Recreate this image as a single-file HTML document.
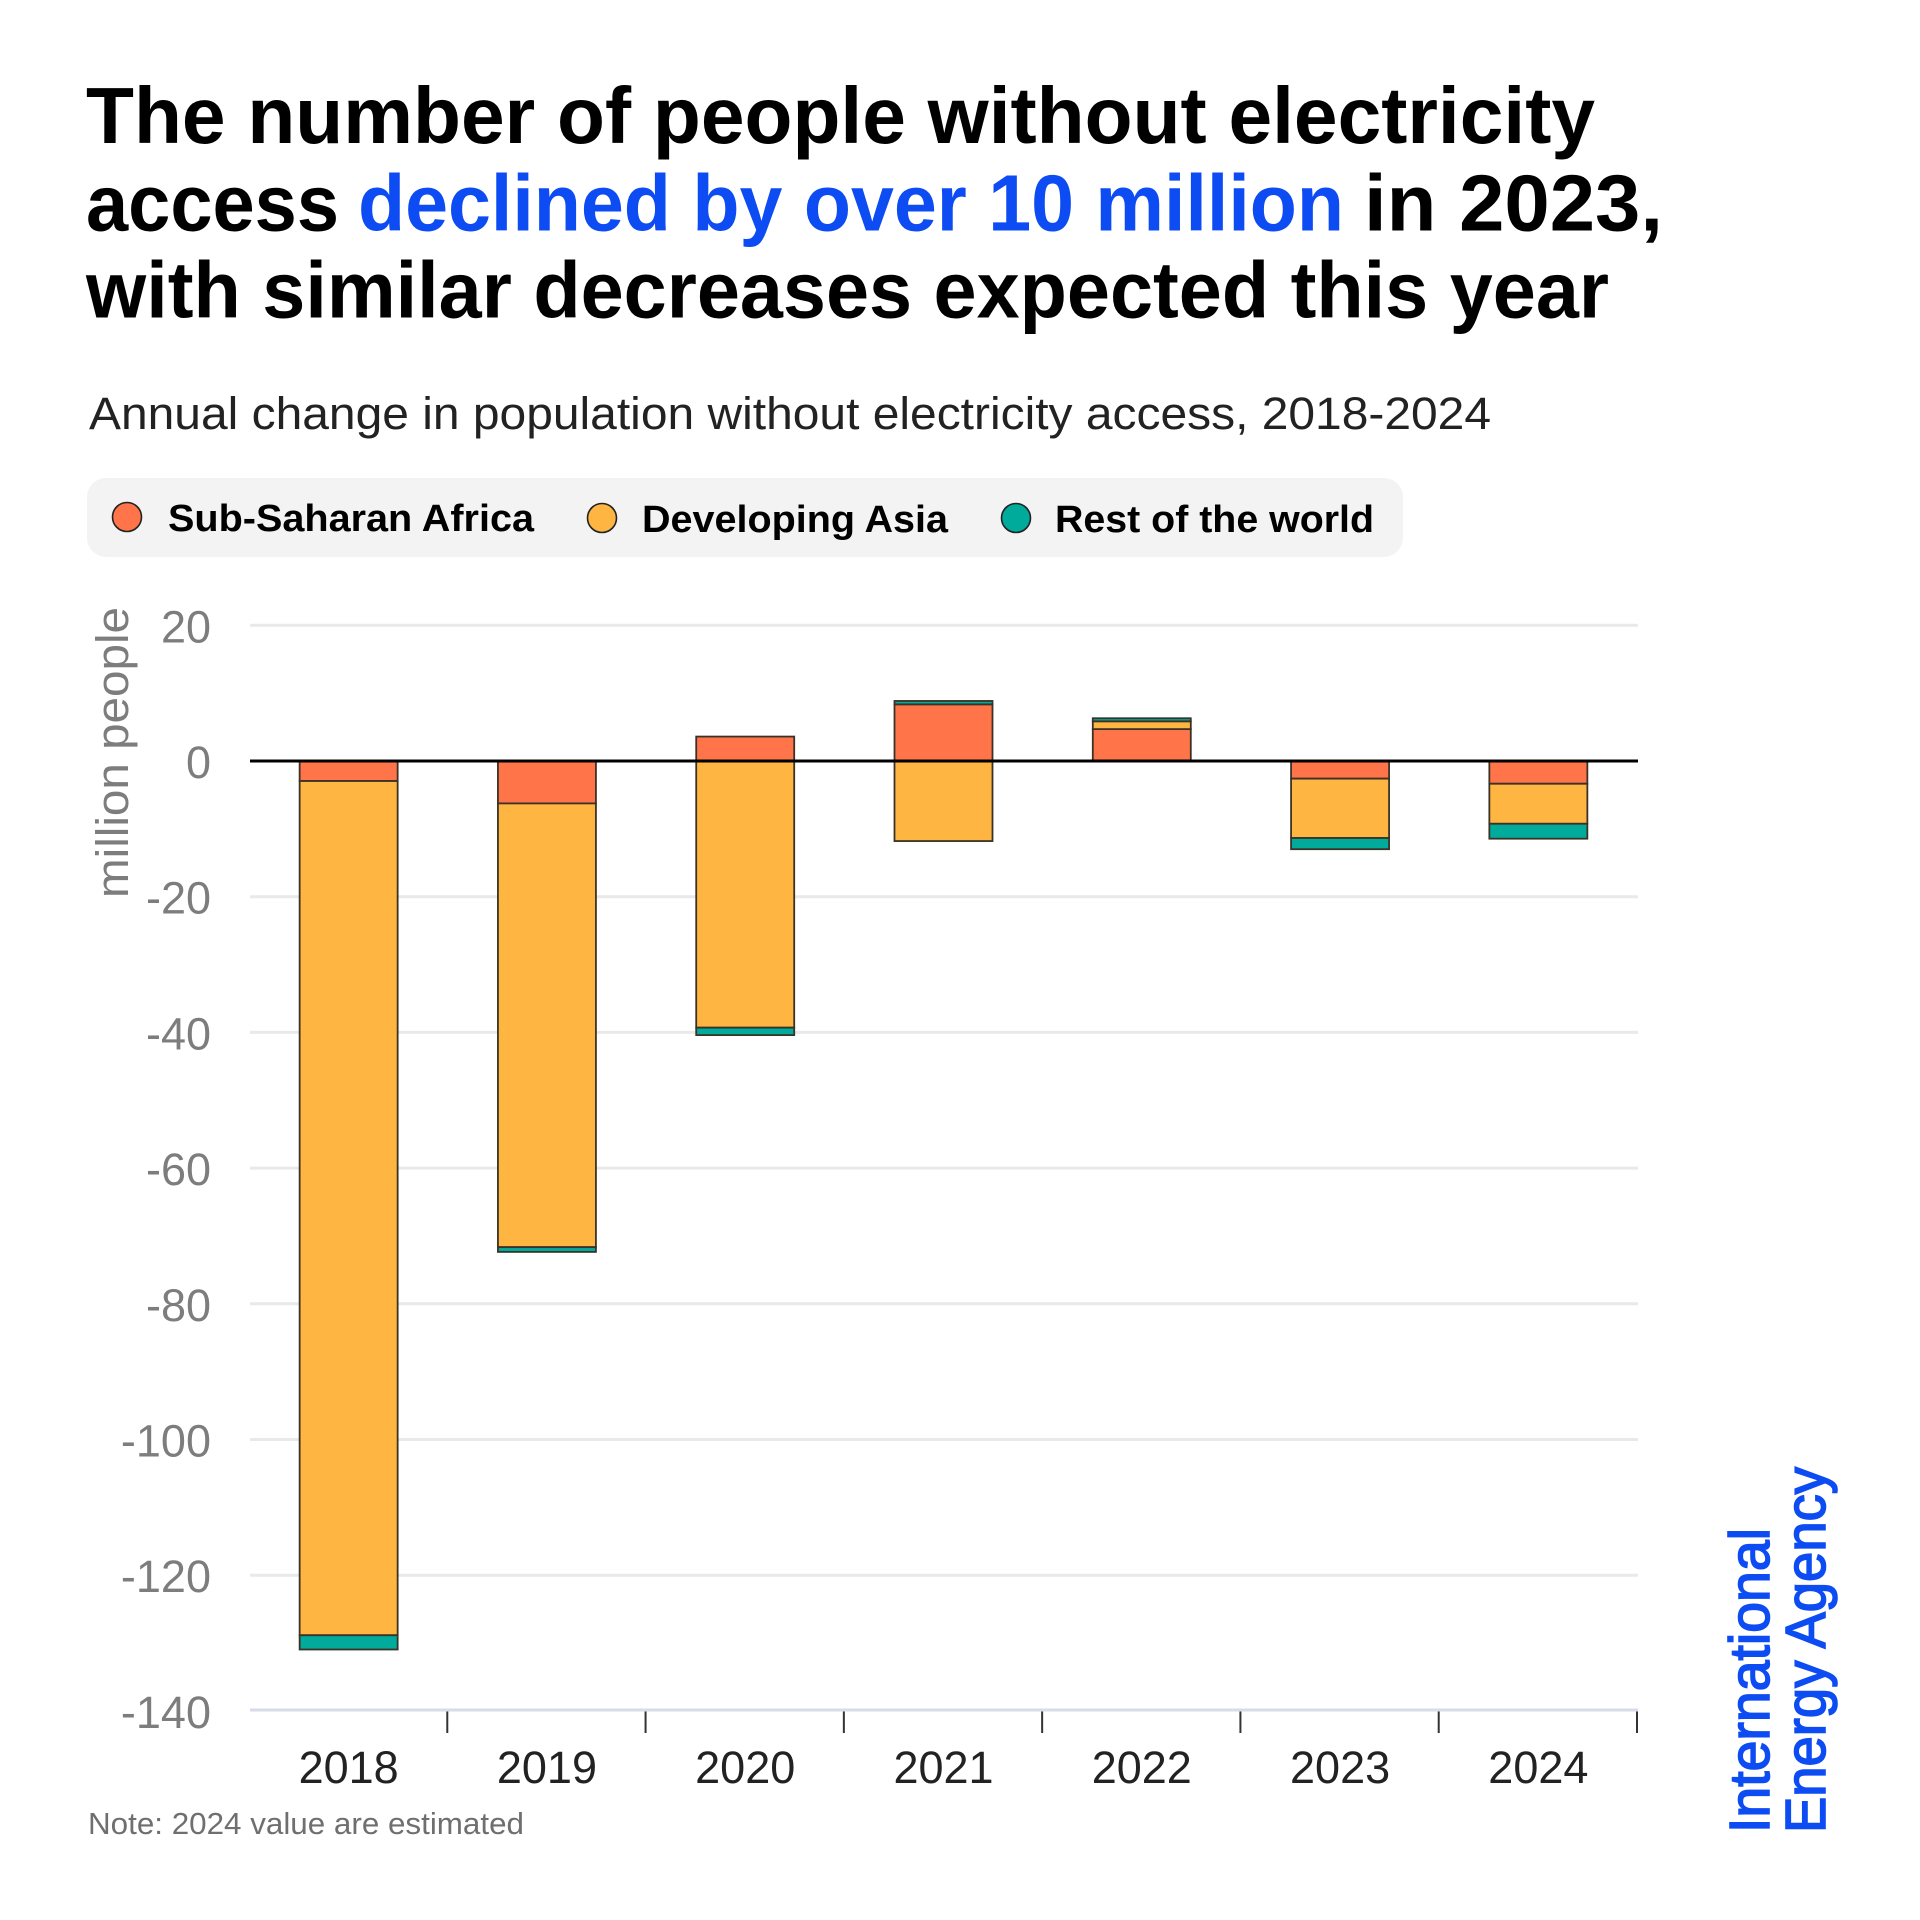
<!DOCTYPE html>
<html lang="en">
<head>
<meta charset="utf-8">
<title>People without electricity access</title>
<style>
  html, body { margin: 0; padding: 0; background: #fff; }
  svg { display: block; font-family: "Liberation Sans", sans-serif; }
</style>
</head>
<body>
<svg id="chart" xmlns="http://www.w3.org/2000/svg" width="1920" height="1920" viewBox="0 0 1920 1920">
  <rect x="0" y="0" width="1920" height="1920" fill="#ffffff"/>

  <g font-weight="700" font-size="80" fill="#000000">
    <text x="86" y="143" textLength="1509" lengthAdjust="spacingAndGlyphs">The number of people without electricity</text>
    <text x="86" y="230.5" textLength="253" lengthAdjust="spacingAndGlyphs">access</text>
    <text x="358" y="230.5" textLength="986" lengthAdjust="spacingAndGlyphs" fill="#0d4cf3">declined by over 10 million</text>
    <text x="1364" y="230.5" textLength="299" lengthAdjust="spacingAndGlyphs">in 2023,</text>
    <text x="86" y="317.5" textLength="1523" lengthAdjust="spacingAndGlyphs">with similar decreases expected this year</text>
  </g>

  <text x="89" y="429" font-size="45" fill="#222222" textLength="1402" lengthAdjust="spacingAndGlyphs">Annual change in population without electricity access, 2018-2024</text>

  <g>
    <rect x="87" y="478" width="1316" height="79" rx="19" fill="#f3f3f3"/>
    <g>
      <circle cx="127" cy="517" r="14.5" fill="#ff7549" stroke="#222" stroke-width="1.6"/>
      <text x="168" y="531" font-size="38" font-weight="700" fill="#000" textLength="366" lengthAdjust="spacingAndGlyphs">Sub-Saharan Africa</text>
    </g>
    <g>
      <circle cx="602" cy="518" r="14.5" fill="#ffb541" stroke="#222" stroke-width="1.6"/>
      <text x="642" y="532" font-size="38" font-weight="700" fill="#000" textLength="306" lengthAdjust="spacingAndGlyphs">Developing Asia</text>
    </g>
    <g>
      <circle cx="1016" cy="518" r="14.5" fill="#00ab9b" stroke="#222" stroke-width="1.6"/>
      <text x="1055" y="532" font-size="38" font-weight="700" fill="#000" textLength="319" lengthAdjust="spacingAndGlyphs">Rest of the world</text>
    </g>
  </g>

  <text transform="translate(128 898) rotate(-90)" font-size="45" fill="#7d7d7d" textLength="291" lengthAdjust="spacingAndGlyphs">million people</text>

  <g id="grid"></g>
  <g id="y-labels"></g>
  <g id="bars"></g>
  <g id="axes"></g>
  <g id="x-labels"></g>

  <text x="88" y="1834" font-size="31" fill="#6f6f6f" textLength="436" lengthAdjust="spacingAndGlyphs">Note: 2024 value are estimated</text>

  <g font-size="57" fill="#0d4cf3" stroke="#0d4cf3" stroke-width="1.6">
    <text transform="translate(1769 1833) rotate(-90)" textLength="305" lengthAdjust="spacingAndGlyphs">International</text>
    <text transform="translate(1825 1833) rotate(-90)" textLength="366" lengthAdjust="spacingAndGlyphs">Energy Agency</text>
  </g>
</svg>

<script>
const categories = ['2018', '2019', '2020', '2021', '2022', '2023', '2024'];
const subSaharanAfrica = [-2.95, -6.25, 3.6, 8.35, 4.7, -2.6, -3.35];
const developingAsia = [-125.9, -65.4, -39.3, -11.8, 1.15, -8.75, -5.9];
const restOfWorld = [-2.1, -0.7, -1.1, 0.5, 0.45, -1.65, -2.2];
const yTicks = [20, 0, -20, -40, -60, -80, -100, -120, -140];

const seriesList = [
  { key: 'sub-saharan-africa', values: subSaharanAfrica, color: '#ff7549' },
  { key: 'developing-asia', values: developingAsia, color: '#ffb541' },
  { key: 'rest-of-the-world', values: restOfWorld, color: '#00ab9b' }
];

const NS = 'http://www.w3.org/2000/svg';
const plotLeft = 250, plotRight = 1638, zeroY = 761, unitPx = 6.785, barWidth = 98;
const bandWidth = (plotRight - plotLeft) / categories.length;
const bottomY = 1710;

function yScale(v) { return zeroY - v * unitPx; }
function xBand(i) { return plotLeft + i * bandWidth; }
function xCenter(i) { return xBand(i) + bandWidth / 2 - 0.5; }

function make(tag, parentId) {
  const el = document.createElementNS(NS, tag);
  document.getElementById(parentId).appendChild(el);
  return el;
}
function setAll(el, attrs) {
  Object.keys(attrs).forEach(function (k) { el.setAttribute(k, attrs[k]); });
}

yTicks.forEach(function (t) {
  const y = yScale(t);
  if (t !== 0 && t !== yTicks[yTicks.length - 1]) {
    const line = make('line', 'grid');
    setAll(line, { x1: plotLeft, x2: plotRight, y1: y, y2: y, stroke: '#e9e9e9', 'stroke-width': 3 });
    
    
  }
  const label = make('text', 'y-labels');
  setAll(label, { x: 211, y: y + 17, 'text-anchor': 'end', 'font-size': 45, fill: '#7d7d7d' });
  label.textContent = String(t);
  
  
});

categories.forEach(function (cat, i) {
  let posBase = 0, negBase = 0;
  seriesList.forEach(function (s) {
    const v = s.values[i];
    let start, end;
    if (v >= 0) { start = posBase; end = posBase + v; posBase = end; }
    else { start = negBase; end = negBase + v; negBase = end; }
    const top = yScale(Math.max(start, end));
    const bottom = yScale(Math.min(start, end));
    const rect = make('rect', 'bars');
    setAll(rect, {
      x: xCenter(i) - barWidth / 2, y: top, width: barWidth, height: bottom - top,
      fill: s.color, stroke: '#3a3226', 'stroke-width': 1.8
    });
    
    
  });

  const label = make('text', 'x-labels');
  setAll(label, { x: xCenter(i), y: 1783, 'text-anchor': 'middle', 'font-size': 45, fill: '#222222' });
  label.textContent = cat;
  
  

  const tick = make('line', 'axes');
  const tx = xBand(i + 1) - 1;
  setAll(tick, { x1: tx, x2: tx, y1: bottomY, y2: bottomY + 23, stroke: '#333333', 'stroke-width': 2 });
  
  
});

const zeroLine = make('line', 'axes');
setAll(zeroLine, { x1: plotLeft, x2: plotRight, y1: zeroY, y2: zeroY, stroke: '#000000', 'stroke-width': 3 });



const xAxis = make('line', 'axes');
setAll(xAxis, { x1: plotLeft, x2: plotRight, y1: bottomY, y2: bottomY, stroke: '#d6dde8', 'stroke-width': 3 });


</script>
</body>
</html>
